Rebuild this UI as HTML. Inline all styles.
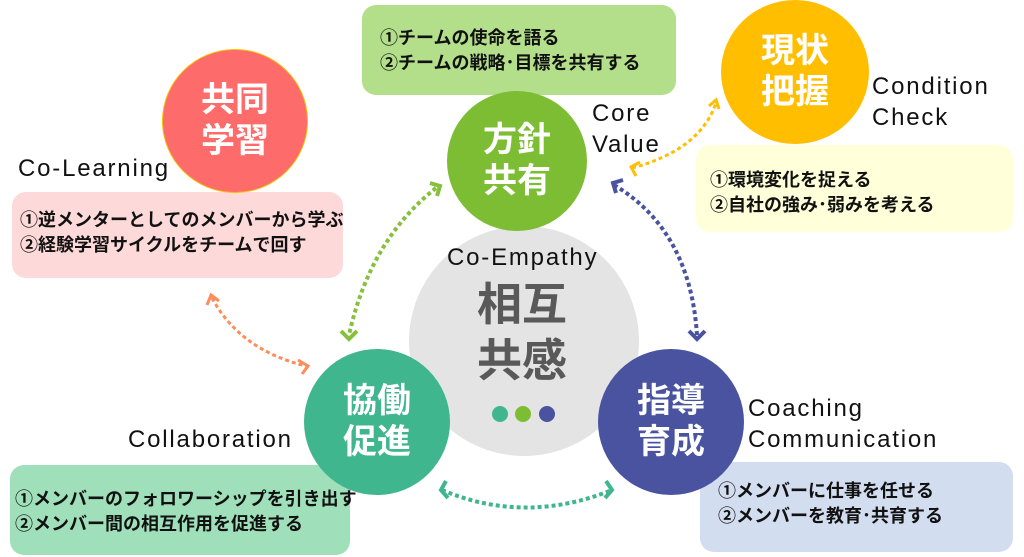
<!DOCTYPE html>
<html><head><meta charset="utf-8"><style>
body{margin:0;width:1024px;height:557px;background:#fff;position:relative;overflow:hidden;font-family:"Liberation Sans","Noto Sans CJK JP",sans-serif}
.a{position:absolute}
.c{position:absolute;border-radius:50%;color:#fff;font-weight:bold;display:flex;align-items:center;justify-content:center;text-align:center;line-height:1.2}
.b{position:absolute;border-radius:14px;font-weight:bold;font-size:18px;line-height:25px;color:#111;box-sizing:border-box;white-space:nowrap}
.l{position:absolute;font-size:24px;letter-spacing:1.8px;color:#111;line-height:31px}
</style></head><body>
<div class="b" style="left:362px;top:5px;width:314px;height:90px;background:#b3df8a;padding:21px 0 0 18px">①チームの使命を語る<br>②チームの戦略･目標を共有する</div>
<div class="b" style="left:696px;top:145px;width:317px;height:87px;background:#ffffd9;padding:23px 0 0 14px">①環境変化を捉える<br>②自社の強み･弱みを考える</div>
<div class="b" style="left:12px;top:192px;width:331px;height:86px;background:#fdd9d9;padding:16px 0 0 8px">①逆メンターとしてのメンバーから学ぶ<br>②経験学習サイクルをチームで回す</div>
<div class="b" style="left:10px;top:465px;width:340px;height:90px;background:#9fe0bb;padding:22px 0 0 5px">①メンバーのフォロワーシップを引き出す<br>②メンバー間の相互作用を促進する</div>
<div class="b" style="left:700px;top:462px;width:313px;height:90px;background:#d3ddf0;padding:17px 0 0 18px">①メンバーに仕事を任せる<br>②メンバーを教育･共育する</div>

<div class="c" style="left:409px;top:226px;width:230px;height:230px;background:#e4e4e4"></div>
<div class="c" style="left:162px;top:49px;width:146px;height:144px;background:#fe6b6b;border:1px solid #f5c000;box-sizing:border-box;font-size:34px">共同<br>学習</div>
<div class="c" style="left:447px;top:91px;width:140px;height:140px;background:#7dbd33;font-size:34px">方針<br>共有</div>
<div class="c" style="left:721px;top:0px;width:148px;height:144px;background:#ffbf00;font-size:34px">現状<br>把握</div>
<div class="c" style="left:304px;top:349px;width:146px;height:146px;background:#3fb68e;font-size:34px">協働<br>促進</div>
<div class="c" style="left:598px;top:349px;width:146px;height:146px;background:#4a53a0;font-size:34px">指導<br>育成</div>

<div class="a" style="left:460px;top:277px;width:124px;text-align:center;font-size:45px;font-weight:bold;color:#595959;line-height:56px">相互<br>共感</div>
<div class="a" style="left:492px;top:406px;width:16px;height:16px;border-radius:50%;background:#3fb68e"></div>
<div class="a" style="left:515px;top:406px;width:16px;height:16px;border-radius:50%;background:#7dbd33"></div>
<div class="a" style="left:539px;top:406px;width:16px;height:16px;border-radius:50%;background:#4a53a0"></div>

<div class="l" style="left:447px;top:242px">Co-Empathy</div>
<div class="l" style="left:18px;top:153px">Co-Learning</div>
<div class="l" style="left:592px;top:98px">Core<br>Value</div>
<div class="l" style="left:872px;top:71px">Condition<br>Check</div>
<div class="l" style="left:128px;top:424px">Collaboration</div>
<div class="l" style="left:748px;top:393px">Coaching<br>Communication</div>

<svg class="a" style="left:0;top:0" width="1024" height="557" fill="none" stroke-width="4" stroke-dasharray="4 3">
<path d="M436 188 Q370 240 349 335" stroke="#86c03c"/>
<path d="M430 183 l10 3 l-3 10 M341 331 l8 8 l8 -8" stroke="#86c03c" stroke-dasharray="none"/>
<path d="M614 185 Q690 230 697 335" stroke="#4a53a0"/>
<path d="M616 193 l-3 -10 l10 -3 M689 331 l8 8 l8 -8" stroke="#4a53a0" stroke-dasharray="none"/>
<path d="M632 168 Q700 150 716 103" stroke="#ffbf00" stroke-width="3"/>
<path d="M640 162 l-9 5 l5 9 M709 106 l7 -6 l3 9" stroke="#ffbf00" stroke-width="3" stroke-dasharray="none"/>
<path d="M212 298 Q240 350 306 366" stroke="#ff8c5a" stroke-width="3"/>
<path d="M207 305 l4 -10 l8 6 M298 360 l10 6 l-6 8" stroke="#ff8c5a" stroke-width="3" stroke-dasharray="none"/>
<path d="M442 490 Q525 525 612 490" stroke="#3fb68e"/>
<path d="M446 481 l-5 9 l7 8 M606 481 l6 9 l-7 8" stroke="#3fb68e" stroke-dasharray="none"/>
</svg>
</body></html>
